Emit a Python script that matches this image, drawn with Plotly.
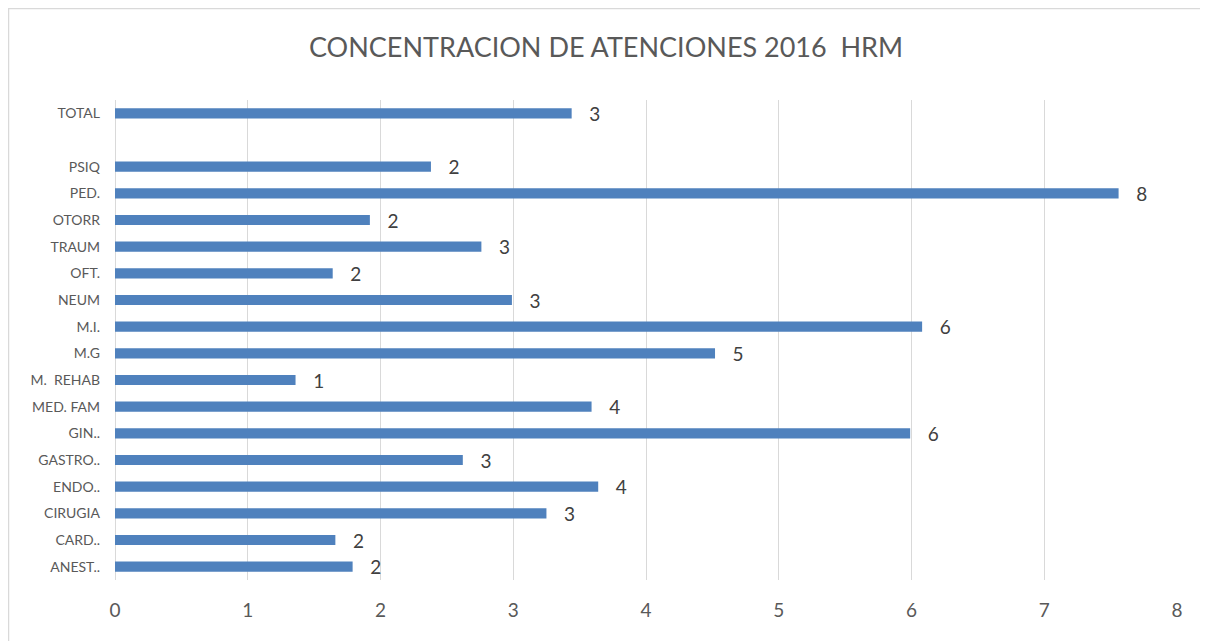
import plotly.graph_objects as go

categories = ["ANEST..", "CARD..", "CIRUGIA", "ENDO..", "GASTRO..", "GIN..",
              "MED. FAM", "M.\u00a0 REHAB", "M.G", "M.I.", "NEUM", "OFT.",
              "TRAUM", "OTORR", "PED.", "PSIQ", " ", "TOTAL"]
values = [1.79, 1.66, 3.25, 3.64, 2.62, 5.99,
          3.59, 1.36, 4.52, 6.08, 2.99, 1.64,
          2.76, 1.92, 7.56, 2.38, None, 3.44]
x_ticks = [0, 1, 2, 3, 4, 5, 6, 7, 8]

labels = ["" if v is None else "   " + str(round(v)) for v in values]

W, H = 1200, 633
L, R, T, B = 107, 31, 92, 61
PW, PH = W - L - R, H - T - B

FONT = "Lato, 'Open Sans', sans-serif"
fig = go.Figure(go.Bar(
    y=categories, x=values, orientation="h",
    marker=dict(color="#4F81BD", line=dict(width=0)),
    width=0.38,
    text=labels, textposition="outside", cliponaxis=False,
    constraintext="none",
    textfont=dict(size=19, color="#404040", family=FONT),
))

fig.update_layout(
    width=W, height=H,
    margin=dict(l=L, r=R, t=T, b=B),
    paper_bgcolor="white", plot_bgcolor="white",
    showlegend=False,
    title=dict(text="CONCENTRACION DE ATENCIONES 2016  HRM", x=(606 - 8) / W, xref="container",
               xanchor="center", y=1 - 40 / H, yanchor="middle",
               font=dict(size=27, color="#595959", family=FONT)),
    font=dict(family=FONT, color="#595959"),
    xaxis=dict(range=[0, 8], tickvals=x_ticks, showgrid=True, gridcolor="#D9D9D9",
               gridwidth=1, zeroline=True, zerolinecolor="#D9D9D9", zerolinewidth=1,
               showline=False, ticks="", tickfont=dict(size=19, color="#595959"),
               ticklabelstandoff=17),
    yaxis=dict(type="category", categoryorder="array", categoryarray=categories,
               range=[-0.5, len(categories) - 0.5],
               showgrid=False, ticks="", showline=False,
               tickfont=dict(size=14, color="#595959"), ticklabelstandoff=14),
    shapes=[dict(type="rect", xref="paper", yref="paper",
                 x0=(0.5 - L) / PW, x1=(1198 - L) / PW,
                 y0=-(B + 30) / PH, y1=(H - 0.5 - B) / PH,
                 line=dict(color="#D9D9D9", width=1.5), fillcolor="rgba(0,0,0,0)",
                 layer="below")],
)

fig.write_html("out.html")
